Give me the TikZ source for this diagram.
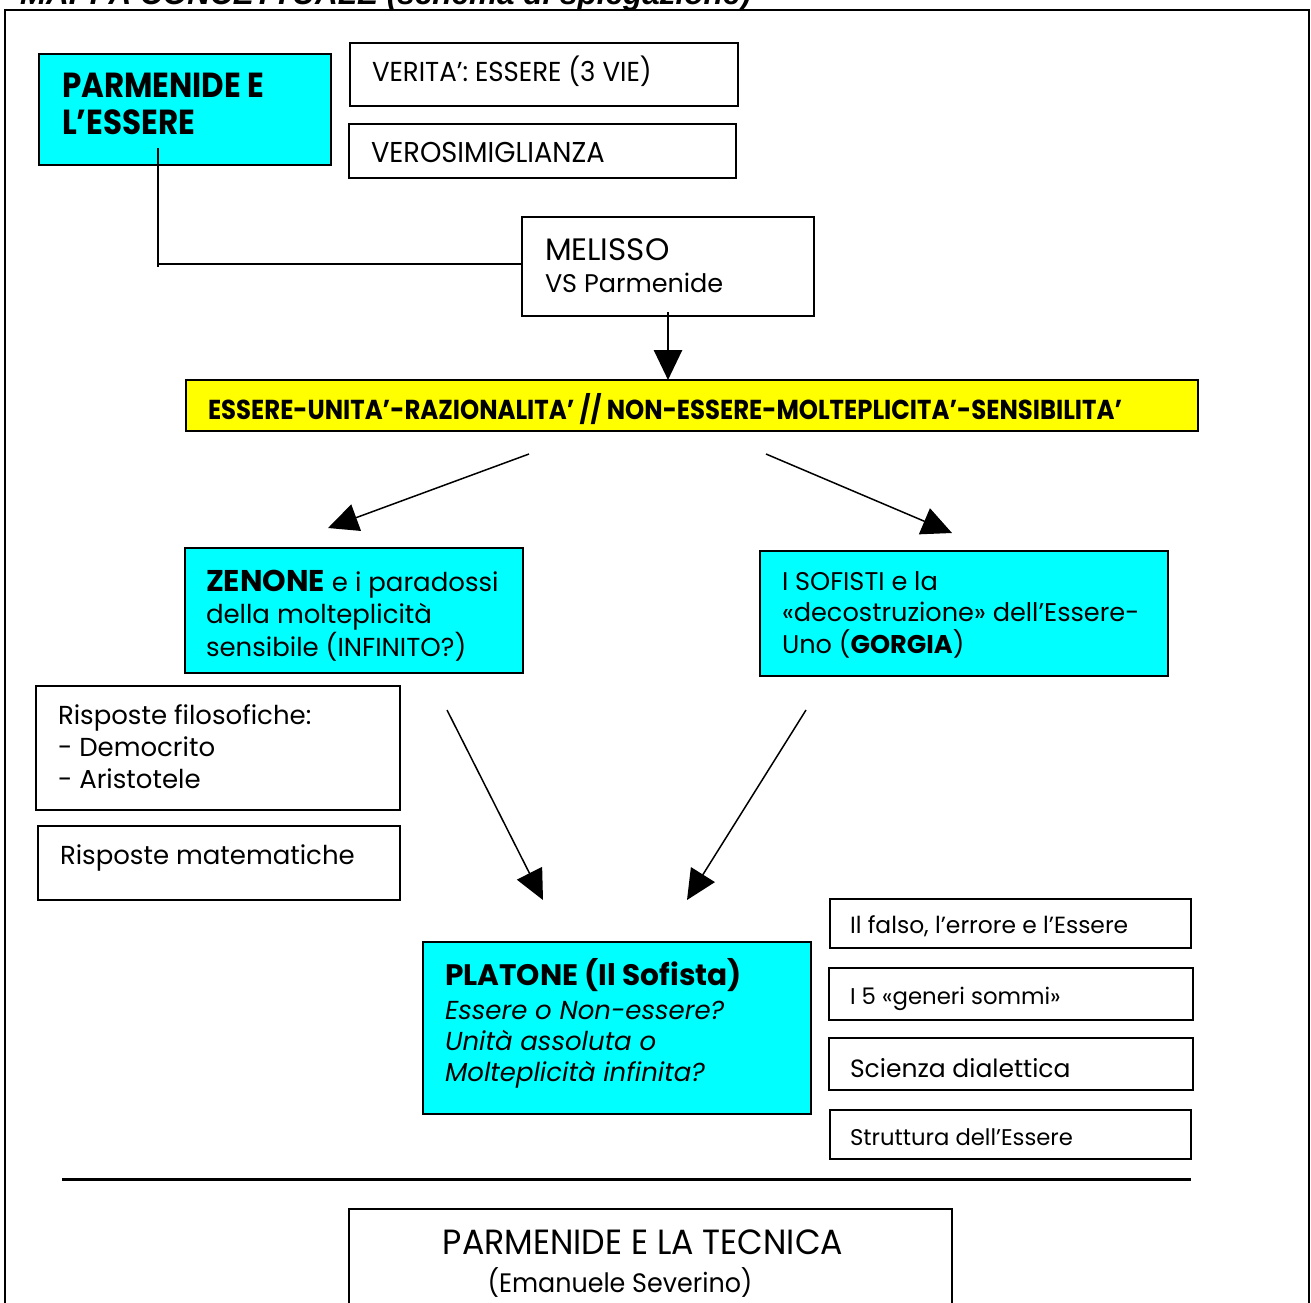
\documentclass[tikz,border=0pt]{standalone}
\usepackage{fontspec}
\setmainfont{Poppins}
\newfontfamily\condf[FakeStretch=0.95]{Poppins}
\newfontfamily\condbf[FakeStretch=0.89]{Poppins Bold}
\newfontfamily\titlef{Liberation Sans}
\usetikzlibrary{arrows.meta}
\definecolor{cy}{RGB}{0,255,255}
\definecolor{ye}{RGB}{255,255,0}
\newcommand{\fsz}[1]{\fontsize{#1}{#1}\selectfont}
\begin{document}
\begin{tikzpicture}[x=1pt,y=-1pt,
  box/.style={draw, line width=1.3pt, inner sep=0pt, outer sep=0pt, anchor=north west},
  txt/.style={inner sep=0pt, outer sep=0pt, anchor=base west},
  ctxt/.style={inner sep=0pt, outer sep=0pt, anchor=base},
  arr/.style={line width=1.5pt, -{Triangle[length=30pt,width=28pt]}},
  body/.style={font=\fsz{26}},
]
\useasboundingbox (0,0) rectangle (1311,1302);
\clip (0,0) rectangle (1311,1302);

% title (cut off at top)
\node[txt, font=\titlef\bfseries\itshape\fsz{31.5}] (title) at (20,4) {MAPPA CONCETTUALE (schema di spiegazione)};

% outer frame
\draw[line width=1.3pt] (5,1330) -- (5,10) -- (1309,10) -- (1309,1330);

% boxes
\node[box, fill=cy, minimum width=292pt, minimum height=111pt] (parm) at (39,54) {};
\node[box, minimum width=388pt, minimum height=63pt] (ver) at (350,43) {};
\node[box, minimum width=387pt, minimum height=54pt] (veros) at (349,124) {};
\node[box, minimum width=292pt, minimum height=99pt] (mel) at (522,217) {};
\node[box, fill=ye, minimum width=1012pt, minimum height=51pt] (yel) at (186,380) {};
\node[box, fill=cy, minimum width=338pt, minimum height=125pt] (zen) at (185,548) {};
\node[box, fill=cy, minimum width=408pt, minimum height=125pt] (sof) at (760,551) {};
\node[box, minimum width=364pt, minimum height=124pt] (rfil) at (36,686) {};
\node[box, minimum width=362pt, minimum height=74pt] (rmat) at (38,826) {};
\node[box, fill=cy, minimum width=388pt, minimum height=172pt] (plat) at (423,942) {};
\node[box, minimum width=361pt, minimum height=49pt] (falso) at (830,899) {};
\node[box, minimum width=364pt, minimum height=52pt] (gen) at (829,968) {};
\node[box, minimum width=364pt, minimum height=52pt] (sci) at (829,1038) {};
\node[box, minimum width=361pt, minimum height=49pt] (str) at (830,1110) {};
\node[box, minimum width=603pt, minimum height=130pt] (tec) at (349,1209) {};

% texts
\node[txt, font=\condbf\fsz{34.8}] (parm-a) at (62,97) {PARMENIDE E};
\node[txt, font=\condbf\fsz{34.8}] (parm-b) at (62,134) {L’ESSERE};
\node[txt, font=\condf\fsz{27.4}] (ver-t) at (372,81) {VERITA’: ESSERE (3 VIE)};
\node[txt, font=\condf\fsz{28.7}] (veros-t) at (371,162) {VEROSIMIGLIANZA};
\node[txt, font=\fsz{31}] (mel-a) at (545,260) {MELISSO};
\node[txt, font=\fsz{25.5}] (mel-b) at (545,292) {VS Parmenide};
\node[txt, font=\condbf\fsz{27.4}] (yel-t) at (208,419) {ESSERE-UNITA’-RAZIONALITA’ // NON-ESSERE-MOLTEPLICITA’-SENSIBILITA’};

\node[txt, body] (zen-a) at (206,591) {{\bfseries\fsz{30}ZENONE} e i paradossi};
\node[txt, body] (zen-b) at (206,623) {della molteplicità};
\node[txt, body] (zen-c) at (206,656) {sensibile (INFINITO?)};

\node[txt, font=\fsz{25.6}] (sof-a) at (782,590) {I SOFISTI e la};
\node[txt, font=\fsz{25.6}] (sof-b) at (782,621) {«decostruzione» dell’Essere-};
\node[txt, font=\fsz{25.6}] (sof-c) at (782,653) {Uno (\textbf{GORGIA})};

\node[txt, body] (rfil-a) at (58,724) {Risposte filosofiche:};
\node[txt, body] (rfil-b) at (58,756) {- Democrito};
\node[txt, body] (rfil-c) at (58,788) {- Aristotele};
\node[txt, body] (rmat-t) at (60,864) {Risposte matematiche};

\node[txt, font=\bfseries\fsz{29.6}] (plat-a) at (445,985) {PLATONE (Il Sofista)};
\node[txt, font=\itshape\fsz{26}] (plat-b) at (445,1019) {Essere o Non-essere?};
\node[txt, font=\itshape\fsz{26}] (plat-c) at (445,1050) {Unità assoluta o};
\node[txt, font=\itshape\fsz{26}] (plat-d) at (445,1081) {Molteplicità infinita?};

\node[txt, font=\fsz{23.4}] (falso-t) at (850,933) {Il falso, l’errore e l’Essere};
\node[txt, font=\fsz{22.8}] (gen-t) at (850,1004) {I 5 «generi sommi»};
\node[txt, font=\fsz{25}] (sci-t) at (850,1077) {Scienza dialettica};
\node[txt, font=\fsz{22.7}] (str-t) at (850,1145) {Struttura dell’Essere};

\node[ctxt, font=\condf\fsz{35}] (tec-a) at (643,1254) {PARMENIDE E LA TECNICA};
\node[ctxt, font=\condf\fsz{26.7}] (tec-b) at (620,1292) {(Emanuele Severino)};

% connectors
\coordinate (pc) at (158,148);
\coordinate (pc2) at (158,267);
\draw[line width=2pt] (pc) -- (pc2);
\draw[line width=2pt] (158,264) -- (mel.west |- 0,264);
\draw[arr, line width=2.8pt] ([yshift=4pt]mel.south) -- (mel.south |- yel.north);

\coordinate (a1s) at (529,454); \coordinate (a1e) at (328,528);
\coordinate (a2s) at (766,454); \coordinate (a2e) at (952,533);
\coordinate (a3s) at (447,710); \coordinate (a3e) at (543,900);
\coordinate (a4s) at (806,710); \coordinate (a4e) at (687,900);
\draw[arr] (a1s) -- (a1e);
\draw[arr] (a2s) -- (a2e);
\draw[arr] (a3s) -- (a3e);
\draw[arr] (a4s) -- (a4e);

\coordinate (r1) at (62,1179); \coordinate (r2) at (1191,1179);
\draw[line width=3pt] (r1) -- (r2);
\end{tikzpicture}
\end{document}
